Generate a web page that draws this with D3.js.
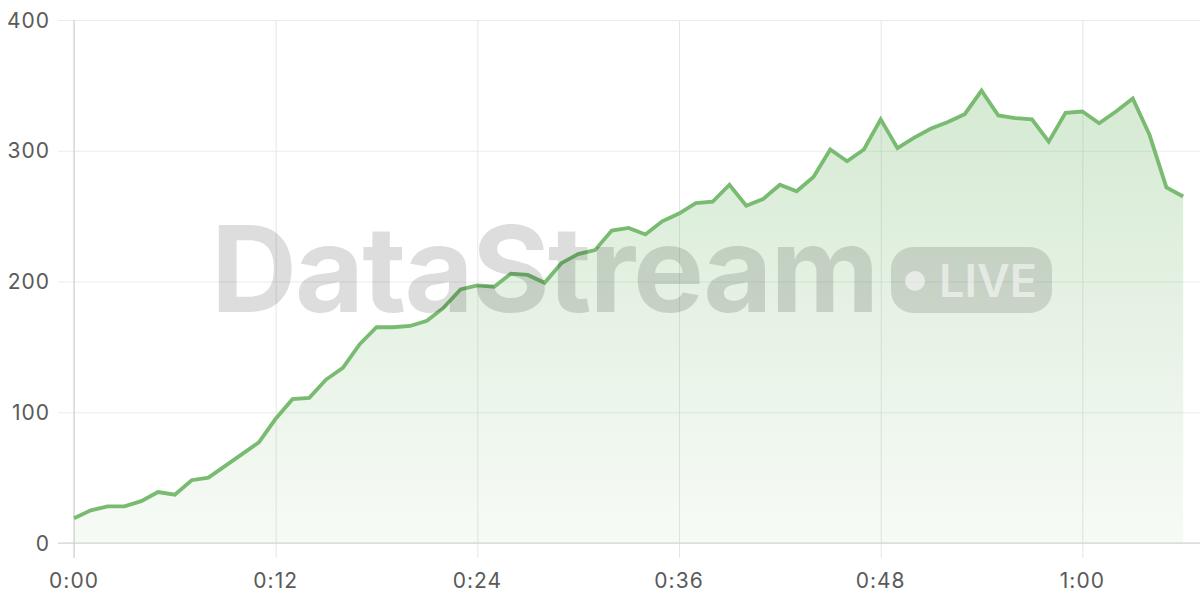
<!DOCTYPE html>
<html>
<head>
<meta charset="utf-8">
<script src="https://cdn.jsdelivr.net/npm/d3@7"></script>
<style>
  html, body { margin: 0; padding: 0; background: #fff; }
  svg { display: block; }
</style>
</head>
<body>
<svg id="chart" width="1200" height="600"></svg>
<script>
// ---- data ----
const minutes = d3.range(0, 67); // one sample per minute, 0..66
const values = [19, 25, 28, 28, 32, 39, 37, 48, 50, 59,
                68, 77, 95, 110, 111, 125, 134, 152, 165, 165,
                166, 170, 180, 194, 197, 196, 206, 205, 199, 214,
                221, 224, 239, 241, 236, 246, 252, 260, 261, 274,
                258, 263, 274, 269, 280, 301, 292, 301, 324, 302,
                310, 317, 322, 328, 346, 327, 325, 324, 307, 329,
                330, 321, 330, 340, 312, 272, 265];
const xTicks = [0, 12, 24, 36, 48, 60];
const xTickLabels = ["0:00", "0:12", "0:24", "0:36", "0:48", "1:00"];
const yTicks = [0, 100, 200, 300, 400];
const watermarkText = "DataStream";
const badgeText = "LIVE";

(function () {
const data = minutes.map((m, i) => ({ m, v: values[i] }));

// ---- layout ----
const mLeft = 74, mRight = 1200, mTop = 20, mBottom = 543;

const svg = d3.select("#chart");
const x = d3.scaleLinear().domain([0, 67]).range([mLeft, mRight]);
const y = d3.scaleLinear().domain([0, 400]).range([mBottom, mTop]);

const defs = svg.append("defs");
const grad = defs.append("linearGradient")
  .attr("id", "areaGrad")
  .attr("gradientUnits", "userSpaceOnUse")
  .attr("x1", 0).attr("x2", 0)
  .attr("y1", y(400)).attr("y2", y(0));
grad.append("stop").attr("offset", "0%").attr("stop-color", "#74b86c").attr("stop-opacity", 0.34);
grad.append("stop").attr("offset", "100%").attr("stop-color", "#74b86c").attr("stop-opacity", 0.06);

// grid: horizontal
svg.append("g")
  .attr("transform", `translate(${mLeft},0)`)
  .call(d3.axisLeft(y).tickValues(yTicks).tickSize(16).tickFormat(""))
  .call(g => g.select(".domain").remove())
  .call(g => g.selectAll("line").attr("x2", mRight - mLeft).attr("x1", -16)
      .attr("stroke", "#ebebeb").attr("stroke-width", 1));

// grid: vertical
svg.append("g")
  .attr("transform", `translate(0,${mBottom})`)
  .call(d3.axisBottom(x).tickValues(xTicks).tickSize(15).tickFormat(""))
  .call(g => g.select(".domain").remove())
  .call(g => g.selectAll("line").attr("y1", mTop - mBottom).attr("y2", 15)
      .attr("stroke", "#e6e6e6").attr("stroke-width", 1));

// area
const area = d3.area().x(d => x(d.m)).y0(y(0)).y1(d => y(d.v));
svg.append("path").datum(data).attr("d", area).attr("fill", "url(#areaGrad)");

// axis lines
svg.append("line").attr("x1", mLeft).attr("x2", mLeft).attr("y1", mTop).attr("y2", mBottom + 15)
  .attr("stroke", "#d4d4d4").attr("stroke-width", 1.2);
svg.append("line").attr("x1", mLeft - 16).attr("x2", mRight).attr("y1", mBottom).attr("y2", mBottom)
  .attr("stroke", "#d0d0d0").attr("stroke-width", 1.2);

// line
const line = d3.line().x(d => x(d.m)).y(d => y(d.v));
svg.append("path").datum(data).attr("d", line)
  .attr("fill", "none").attr("stroke", "#79bb71").attr("stroke-width", 3.8)
  .attr("stroke-linejoin", "miter").attr("stroke-linecap", "butt");

// watermark
const wm = svg.append("g").attr("class", "watermark");
const wmText = wm.append("text")
  .attr("x", 211).attr("y", 312)
  .attr("font-family", "Inter, 'Noto Sans', sans-serif")
  .attr("font-weight", 700)
  .attr("font-size", 112)
  .attr("letter-spacing", -2)
  .attr("fill", "#000").attr("fill-opacity", 0.135)
  .text(watermarkText);
const wlen = wmText.node().getComputedTextLength();
wmText.attr("font-size", 112 * 665 / wlen);

wm.append("rect")
  .attr("x", 891).attr("y", 247).attr("width", 161).attr("height", 66)
  .attr("rx", 22).attr("ry", 22)
  .attr("fill", "#000").attr("fill-opacity", 0.12);
wm.append("circle").attr("cx", 915).attr("cy", 281).attr("r", 10)
  .attr("fill", "#fff").attr("fill-opacity", 0.55);
wm.append("text")
  .attr("x", 939).attr("y", 297)
  .attr("font-family", "Inter, 'Noto Sans', sans-serif")
  .attr("font-weight", 600)
  .attr("font-size", 45)
  .attr("fill", "#fff").attr("fill-opacity", 0.55)
  .text(badgeText);

// tick labels
const lblFont = "Inter, 'Noto Sans', sans-serif";
svg.append("g").selectAll("text").data(yTicks).join("text")
  .attr("x", 50).attr("y", d => y(d)).attr("dy", "0.36em")
  .attr("text-anchor", "end")
  .attr("font-family", lblFont).attr("font-size", 21)
  .attr("letter-spacing", 1)
  .attr("fill", "#5a5a5a")
  .text(d => d);

svg.append("g").selectAll("text").data(xTicks).join("text")
  .attr("x", d => x(d)).attr("y", 580).attr("dy", "0.36em")
  .attr("text-anchor", "middle")
  .attr("font-family", lblFont).attr("font-size", 21)
  .attr("letter-spacing", 1)
  .attr("fill", "#5a5a5a")
  .text((d, i) => xTickLabels[i]);
})();
</script>
</body>
</html>
